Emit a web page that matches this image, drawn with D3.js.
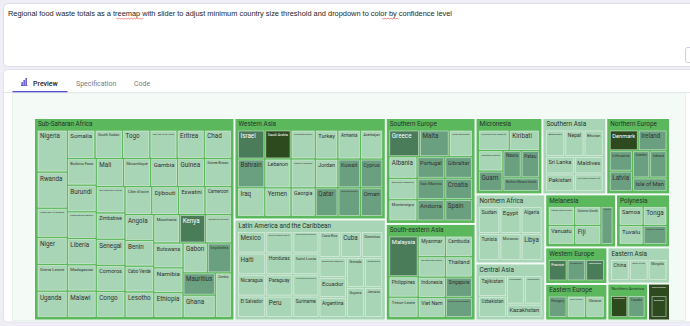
<!DOCTYPE html>
<html>
<head>
<meta charset="utf-8">
<script src="https://cdn.jsdelivr.net/npm/d3@7"></script>
<style>
  body { margin: 0; background: #efeef6; overflow: hidden; }
  svg { display: block; }
  text { font-family: Roboto, "Liberation Sans", sans-serif; }
</style>
</head>
<body>
<div id="chart"></div>
<script>
// household food waste, kg per capita per year, grouped by UN region
var regionNames = ["Sub-Saharan Africa", "Western Asia", "Latin America and the Caribbean", "Southern Europe",
  "South-eastern Asia", "Micronesia", "Southern Asia", "Northern Europe", "Northern Africa", "Central Asia",
  "Melanesia", "Polynesia", "Western Europe", "Eastern Europe", "Eastern Asia", "Northern America",
  "Australia and New Zealand"];

var regionCountries = [
  ["Nigeria", "Rwanda", "United Rep. of Tanzania", "Niger", "Sierra Leone", "Uganda", "Somalia", "South Sudan", "Togo",
   "Dem. Rep. of the Congo", "Eritrea", "Chad", "Burkina Faso", "Burundi", "Central African Republic", "Liberia",
   "Madagascar", "Malawi", "Mali", "Mozambique", "Gambia", "Guinea", "Guinea-Bissau", "Sao Tome and Principe",
   "Zimbabwe", "Senegal", "Comoros", "Congo", "Côte d'Ivoire", "Djibouti", "Eswatini", "Cameroon", "Angola", "Benin",
   "Cabo Verde", "Lesotho", "Mauritania", "Kenya", "Equatorial Guinea", "Botswana", "Namibia", "Ethiopia", "Gabon",
   "Seychelles", "Mauritius", "Ghana", "Zambia"],
  ["Israel", "Bahrain", "Iraq", "Saudi Arabia", "Lebanon", "Yemen", "Syrian Arab Republic", "State of Palestine",
   "Georgia", "Turkey", "Armenia", "Azerbaijan", "Jordan", "Qatar", "Kuwait", "Cyprus", "United Arab Emirates", "Oman"],
  ["Mexico", "Haiti", "Nicaragua", "El Salvador", "Bolivia (Plurinational State of)", "Honduras", "Paraguay", "Peru",
   "Saint Vincent and the Grenadines", "Saint Lucia", "Venezuela (Bolivarian Republic of)", "Suriname", "Costa Rica",
   "Cuba", "Dominica", "Dominican Republic", "Ecuador", "Argentina", "Grenada", "Guatemala", "Guyana", "Jamaica"],
  ["Greece", "Malta", "North Macedonia", "Albania", "Bosnia and Herzegovina", "Montenegro", "Portugal", "Gibraltar",
   "San Marino", "Andorra", "Croatia", "Spain"],
  ["Malaysia", "Philippines", "Timor-Leste", "Myanmar", "Cambodia", "Lao People's Dem. Republic", "Thailand",
   "Indonesia", "Viet Nam", "Singapore", "Brunei Darussalam"],
  ["Micronesia (Fed. States of)", "Kiribati", "Marshall Islands", "Guam", "Nauru", "Palau", "Northern Mariana Islands"],
  ["Afghanistan", "Nepal", "Bhutan", "Sri Lanka", "Pakistan", "Maldives", "Iran (Islamic Republic of)"],
  ["Denmark", "Ireland", "Lithuania", "Latvia", "Sweden", "Iceland", "Isle of Man"],
  ["Sudan", "Tunisia", "Egypt", "Algeria", "Morocco", "Libya"],
  ["Tajikistan", "Uzbekistan", "Kyrgyzstan", "Turkmenistan", "Kazakhstan"],
  ["Papua New Guinea", "Vanuatu", "Solomon Islands", "Fiji", "New Caledonia"],
  ["Samoa", "Tuvalu", "Tonga", "French Polynesia"],
  ["France", "Switzerland", "Netherlands"],
  ["Hungary", "Republic of Moldova", "Ukraine"],
  ["China", "Republic of Korea", "Mongolia"],
  ["United States of America", "Canada"],
  ["Australia"]
];

var regionWaste = [
  [181, 155, 125, 116, 115, 113, 112, 111, 111, 110, 110, 110, 109, 109, 109, 108, 108, 108, 108, 108, 107, 107, 107,
   107, 107, 106, 106, 106, 106, 106, 105, 105, 105, 105, 105, 104, 104, 104, 104, 103, 103, 103, 103, 102, 102, 102, 102],
  [123, 122, 122, 118, 118, 117, 109, 109, 108, 102, 102, 101, 101, 101, 100, 100, 100, 100],
  [95, 95, 94, 94, 91, 91, 90, 90, 88, 88, 87, 87, 86, 86, 86, 86, 85, 85, 85, 85, 85, 85],
  [130, 126, 99, 97, 96, 95, 95, 95, 94, 94, 94, 94],
  [193, 97, 96, 91, 91, 90, 90, 90, 88, 88, 88],
  [110, 108, 87, 86, 86, 86, 86],
  [90, 89, 89, 88, 88, 88, 88],
  [105, 104, 83, 82, 82, 82, 81],
  [103, 102, 102, 102, 102, 101],
  [111, 110, 97, 97, 90],
  [98, 97, 97, 97, 89],
  [92, 91, 91, 90],
  [97, 96, 96],
  [97, 96, 96],
  [96, 96, 96],
  [96, 95],
  [103]
];

// confidence of each estimate: VL very low, L low, M medium, H high
var regionConfidence = [
  ["VL", "VL", "VL", "VL", "VL", "VL", "VL", "VL", "VL", "VL", "VL", "VL", "VL", "VL", "VL", "VL", "VL", "VL", "VL",
   "VL", "VL", "VL", "VL", "VL", "VL", "VL", "VL", "VL", "VL", "VL", "VL", "VL", "VL", "VL", "VL", "VL", "VL", "M",
   "VL", "VL", "VL", "VL", "VL", "L", "L", "VL", "VL"],
  ["M", "L", "VL", "H", "VL", "VL", "VL", "VL", "VL", "VL", "VL", "VL", "VL", "L", "L", "L", "L", "L"],
  ["VL", "VL", "VL", "VL", "VL", "VL", "VL", "VL", "VL", "VL", "VL", "VL", "VL", "VL", "VL", "VL", "VL", "VL", "VL",
   "VL", "VL", "VL"],
  ["M", "L", "VL", "VL", "VL", "VL", "L", "L", "L", "L", "L", "L"],
  ["M", "VL", "VL", "VL", "VL", "VL", "VL", "VL", "VL", "L", "L"],
  ["VL", "VL", "VL", "L", "L", "L", "L"],
  ["VL", "VL", "VL", "VL", "VL", "VL", "VL"],
  ["H", "L", "L", "L", "L", "L", "L"],
  ["VL", "VL", "VL", "VL", "VL", "VL"],
  ["VL", "VL", "VL", "VL", "VL"],
  ["VL", "VL", "VL", "VL", "L"],
  ["VL", "VL", "VL", "L"],
  ["M", "L", "M"],
  ["L", "VL", "VL"],
  ["VL", "VL", "VL"],
  ["H", "L"],
  ["H"]
];

var confLevels = ["VL", "L", "M", "H"];
var confColor = d3.scaleOrdinal().domain(confLevels).range(["#a8d5b5", "#6a9f80", "#4a7c59", "#2d4a1e"]);
var mixedColor = "#5cb85c";

var W = 690, H = 326;
var svg = d3.select("#chart").append("svg").attr("width", W).attr("height", H);

// ---- page chrome ----
svg.append("rect").attr("width", W).attr("height", H).attr("fill", "#efeef6");
svg.append("rect").attr("x", 3.5).attr("y", 3.5).attr("width", 720).attr("height", 63)
  .attr("rx", 4).attr("fill", "#fff").attr("stroke", "#dddce8");
svg.append("rect").attr("x", 685.5).attr("y", 47.5).attr("width", 14).attr("height", 15)
  .attr("rx", 2).attr("fill", "#fff").attr("stroke", "#cfcde0");

var prompt = "Regional food waste totals as a treemap with slider to adjust minimum country size threshold and dropdown to color by confidence level";
var promptText = svg.append("text").attr("x", 8).attr("y", 16)
  .style("font-family", "'Liberation Sans', Arial, sans-serif")
  .style("font-size", "7.2px").attr("fill", "#1e1e1e").text(prompt);
var natural = promptText.node().getComputedTextLength();
var wantLen = 444;
promptText.attr("textLength", wantLen).attr("lengthAdjust", "spacingAndGlyphs");
["treemap", "color"].forEach(function(word) {
  var i = prompt.indexOf(word);
  var x0 = 8 + promptText.node().getSubStringLength(0, i) * wantLen / natural;
  var w = promptText.node().getSubStringLength(i, word.length) * wantLen / natural;
  var pts = [];
  for (var x = 0; x <= w; x += 1.5) pts.push([x0 + x, 18.2 + ((x / 1.5) % 2 ? 0.8 : 0)]);
  svg.append("path").attr("d", d3.line()(pts)).attr("fill", "none").attr("stroke", "#e0443e").attr("stroke-width", 0.6);
});

svg.append("rect").attr("x", 3.5).attr("y", 69.5).attr("width", 720).attr("height", 252.5)
  .attr("rx", 4).attr("fill", "#fff").attr("stroke", "#e2e1ec");
svg.append("line").attr("x1", 4).attr("x2", 690).attr("y1", 92.5).attr("y2", 92.5).attr("stroke", "#e6e6ee");
svg.append("rect").attr("x", 12.5).attr("y", 91).attr("width", 55).attr("height", 1.6).attr("fill", "#5a4dd3");

// tab icon (small bar chart)
var icon = svg.append("g").attr("fill", "#4a3fc2");
[[21.5, 3], [23.5, 5], [25.5, 7]].forEach(function(b) {
  icon.append("rect").attr("x", b[0]).attr("y", 85 - b[1]).attr("width", 1.3).attr("height", b[1]);
});
icon.append("rect").attr("x", 21).attr("y", 85).attr("width", 6.5).attr("height", 0.8);

var tabs = [["Preview", 33, "#222", 500], ["Specification", 76, "#7a7a80", 400], ["Code", 134, "#7a7a80", 400]];
tabs.forEach(function(t) {
  svg.append("text").attr("x", t[1]).attr("y", 85.5).style("font-size", "7px")
    .style("font-weight", t[3]).attr("fill", t[2]).text(t[0]);
});

svg.append("rect").attr("x", 12.5).attr("y", 93).attr("width", 673).attr("height", 227.5)
  .attr("fill", "#f4fbf6").attr("stroke", "#e6f2ea");

// ---- treemap ----
var data = {
  name: "World",
  children: regionNames.map(function(r, i) {
    return {
      name: r,
      children: regionCountries[i].map(function(c, j) {
        return { name: c, value: regionWaste[i][j], conf: regionConfidence[i][j] };
      })
    };
  })
};

var root = d3.hierarchy(data)
  .sum(function(d) { return d.value || 0; })
  .sort(function(a, b) { return b.value - a.value; });

d3.treemap()
  .tile(d3.treemapSquarify.ratio(1))
  .size([640, 206.5])
  .paddingOuter(3)
  .paddingTop(function(d) { return d.depth ? 12 : 3; })
  .paddingInner(2)(root);

function regionFill(d) {
  var levels = Array.from(new Set(d.leaves().map(function(l) { return l.data.conf; })));
  return levels.length === 1 ? confColor(levels[0]) : mixedColor;
}
function darkFill(c) { return c === confColor("M") || c === confColor("H"); }

var chart = svg.append("g").attr("transform", "translate(32,116)");

function fitText(sel, maxSize, room) {
  sel.each(function(d) {
    var t = d3.select(this).style("font-size", maxSize + "px");
    var len = this.getComputedTextLength();
    var avail = room(d);
    var fs = len > avail ? Math.max(maxSize * avail / len, 1) : maxSize;
    t.style("font-size", fs + "px");
    d.fs = fs;
  });
}

var region = chart.selectAll("g.region").data(root.children).join("g").attr("class", "region");
region.append("rect")
  .attr("x", function(d) { return d.x0; })
  .attr("y", function(d) { return d.y0; })
  .attr("width", function(d) { return d.x1 - d.x0; })
  .attr("height", function(d) { return d.y1 - d.y0; })
  .attr("fill", regionFill);

var regionLabel = region.append("text")
  .attr("fill", function(d) { return darkFill(regionFill(d)) ? "#fff" : "#23352a"; })
  .text(function(d) { return d.data.name; });
fitText(regionLabel, 6.4, function(d) { return d.x1 - d.x0 - 6; });
regionLabel
  .attr("x", function(d) { return d.x0 + 3; })
  .attr("y", function(d) { return d.y0 + 2.6 + d.fs * 0.74; });

var leaf = chart.selectAll("g.leaf").data(root.leaves()).join("g").attr("class", "leaf");
leaf.append("rect")
  .attr("x", function(d) { return d.x0; })
  .attr("y", function(d) { return d.y0; })
  .attr("width", function(d) { return d.x1 - d.x0; })
  .attr("height", function(d) { return d.y1 - d.y0; })
  .attr("fill", function(d) { return confColor(d.data.conf); })
  .attr("stroke", "rgba(255,255,255,0.55)")
  .attr("stroke-width", 0.8);

var leafLabel = leaf.append("text")
  .attr("fill", function(d) { return d.data.conf === "M" || d.data.conf === "H" ? "#fff" : "#333"; })
  .text(function(d) { return d.data.name; });
fitText(leafLabel, 6.3, function(d) { return d.x1 - d.x0 - 4; });
leafLabel
  .attr("x", function(d) { return d.x0 + 2; })
  .attr("y", function(d) { return d.y0 + 1.7 + d.fs * 0.92; });
</script>
</body>
</html>
